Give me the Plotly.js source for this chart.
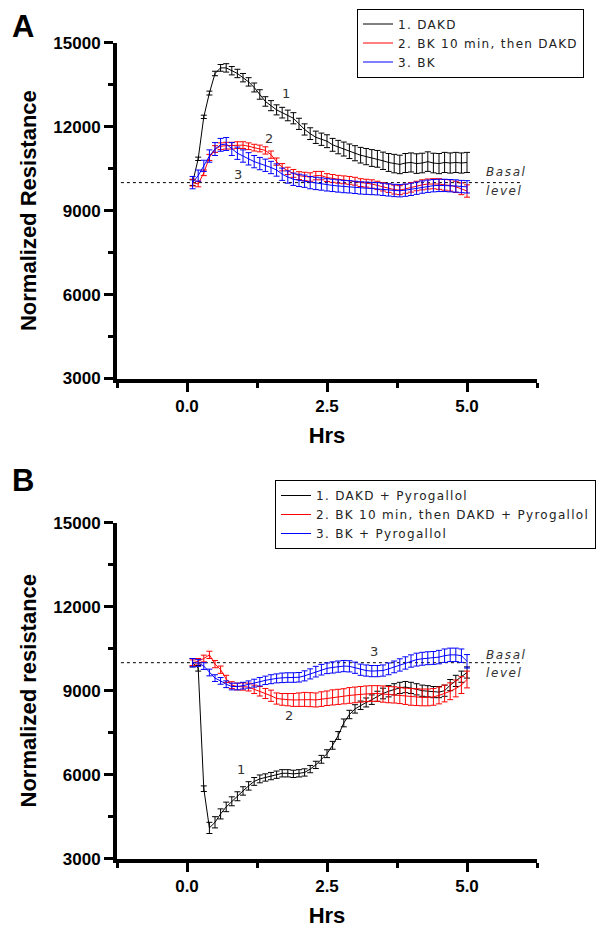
<!DOCTYPE html>
<html>
<head>
<meta charset="utf-8">
<script src="https://cdn.plot.ly/plotly-3.0.1.min.js"></script>
<style>
html,body{margin:0;padding:0;background:#fff;}
#chart{width:601px;height:932px;}
text.legendtext, text.legend2text{letter-spacing:1.3px;}
text.annotation-text{letter-spacing:1.6px;}
</style>
</head>
<body>
<div id="chart"></div>
<script>
// ---- data ----
const hrs = [0.1,0.2,0.3,0.4,0.5,0.6,0.7,0.8,0.9,1.0,
             1.1,1.2,1.3,1.4,1.5,1.6,1.7,1.8,1.9,2.0,
             2.1,2.2,2.3,2.4,2.5,2.6,2.7,2.8,2.9,3.0,
             3.1,3.2,3.3,3.4,3.5,3.6,3.7,3.8,3.9,4.0,
             4.1,4.2,4.3,4.4,4.5,4.6,4.7,4.8,4.9,5.0];
const basalLevel = 10000;

// Panel A
const namesA = ["1. DAKD", "2. BK 10 min, then DAKD", "3. BK"];
const dakdA = [10000,10850,12350,13200,13900,14100,14100,14000,13900,13750,
               13600,13400,13150,12900,12750,12600,12500,12400,12300,12100,
               11900,11750,11620,11550,11480,11350,11270,11200,11120,11050,
               10980,10930,10880,10850,10780,10720,10680,10650,10700,10720,
               10680,10700,10750,10700,10680,10720,10700,10720,10700,10720];
const dakdAerr = [100,60,60,70,80,120,150,150,150,150,
                  150,160,170,170,180,180,190,190,200,200,
                  200,210,220,220,230,230,240,250,260,270,
                  280,290,300,300,310,320,330,330,340,340,
                  350,350,350,350,360,360,360,360,360,360];
const bkDakdA = [10000,9950,10350,10900,11200,11300,11320,11320,11340,11340,
                 11300,11250,11220,11150,11000,10750,10550,10420,10330,10250,
                 10220,10200,10250,10250,10180,10150,10120,10100,10080,10050,
                 10000,9980,9950,9900,9850,9800,9750,9730,9780,9830,
                 9880,9920,9950,9960,9950,9920,9900,9850,9780,9700];
const bkDakdAerr = [120,100,100,110,120,120,120,120,120,120,
                    120,120,120,130,130,130,130,130,140,140,
                    150,150,150,150,140,140,140,140,140,140,
                    140,140,150,150,150,150,160,160,160,170,
                    170,180,180,180,190,190,200,200,210,220];
const bkA = [10000,10250,10600,10950,11200,11350,11380,11200,11050,10950,
             10850,10750,10680,10620,10540,10450,10300,10200,10120,10080,
             10050,10000,9970,9950,9920,9900,9880,9860,9850,9830,
             9810,9800,9790,9780,9760,9740,9720,9710,9730,9760,
             9800,9840,9870,9890,9900,9900,9890,9880,9860,9850];
const bkAerr = [220,200,200,220,230,230,230,230,220,220,
                220,220,220,220,220,220,220,220,220,220,
                220,220,220,220,220,220,220,220,220,220,
                220,220,220,220,220,220,220,220,220,220,
                220,220,220,220,220,220,220,220,220,220];

// Panel B
const namesB = ["1. DAKD + Pyrogallol", "2. BK 10 min, then DAKD + Pyrogallol", "3. BK + Pyrogallol"];
const dakdB = [10000,9800,5500,4100,4300,4600,4850,5050,5230,5420,
               5600,5760,5850,5900,5950,6000,6050,6050,6030,6050,
               6080,6200,6350,6550,6750,7050,7400,7850,8150,8350,
               8480,8580,8680,8800,8900,8980,9050,9100,9130,9100,
               9050,9000,8980,8950,8950,9000,9200,9350,9500,9650];
const dakdBerr = [150,100,100,200,200,180,170,160,160,150,
                  150,140,140,130,130,130,130,130,130,130,
                  130,130,130,140,140,140,140,140,150,150,
                  150,160,170,180,190,200,200,200,200,200,
                  200,200,200,200,200,200,200,200,200,200];
const bkDakdB = [10000,10050,10150,10280,9950,9750,9420,9200,9150,9150,
                 9130,9050,8980,8900,8820,8720,8690,8680,8670,8680,
                 8690,8680,8670,8700,8730,8760,8780,8800,8830,8850,
                 8870,8890,8900,8900,8880,8860,8850,8830,8800,8780,
                 8770,8760,8760,8780,8830,8900,8980,9080,9200,9400];
const bkDakdBerr = [100,100,120,130,130,130,130,120,120,130,
                    140,150,170,180,200,200,210,220,230,240,
                    250,250,250,260,260,270,270,270,280,280,
                    280,280,280,280,290,290,290,290,290,300,
                    300,300,300,300,300,300,300,300,300,300];
const bkB = [10000,9990,9880,9650,9450,9350,9230,9150,9150,9180,
             9220,9270,9320,9370,9410,9440,9460,9470,9470,9480,
             9530,9600,9680,9750,9800,9830,9860,9880,9870,9820,
             9750,9720,9700,9700,9720,9780,9850,9920,9990,10060,
             10110,10140,10160,10170,10200,10250,10280,10280,10250,10050];
const bkBerr = [150,120,120,120,120,120,120,120,120,120,
                130,140,150,150,160,160,170,170,170,170,
                180,180,190,190,190,200,200,200,200,200,
                200,200,200,200,200,210,210,220,220,220,
                230,230,230,230,240,240,240,240,240,240];

const xTickVals = [0, 2.5, 5];
const xTickText = ["0.0", "2.5", "5.0"];
const yTickVals = [3000, 6000, 9000, 12000, 15000];
const yTickText = ["3000", "6000", "9000", "12000", "15000"];

// curve labels [x, y, text]
const curveLabelsA = [[1.78, 13190, "1"], [1.49, 11590, "2"], [0.93, 10280, "3"]];
const curveLabelsB = [[3.36, 10390, "3"], [1.84, 8100, "2"], [0.98, 6170, "1"]];

// ---- styling / building ----
const colors = ["#000000", "#ff0000", "#0000ff"];
function series(y, err, name, color, xa, ya, legend) {
  return {
    type: "scatter", mode: "lines", x: hrs, y: y, name: name,
    xaxis: xa, yaxis: ya, legend: legend,
    line: {color: color, width: 1},
    error_y: {type: "data", array: err, visible: true, color: color, thickness: 1, width: 3}
  };
}
const data = [
  series(dakdA, dakdAerr, namesA[0], colors[0], "x", "y", "legend"),
  series(bkDakdA, bkDakdAerr, namesA[1], colors[1], "x", "y", "legend"),
  series(bkA, bkAerr, namesA[2], colors[2], "x", "y", "legend"),
  series(dakdB, dakdBerr, namesB[0], colors[0], "x2", "y2", "legend2"),
  series(bkDakdB, bkDakdBerr, namesB[1], colors[1], "x2", "y2", "legend2"),
  series(bkB, bkBerr, namesB[2], colors[2], "x2", "y2", "legend2")
];

const tickFont = {family: "Liberation Sans, Arial, sans-serif", size: 17, weight: "bold", color: "#000"};
const titleFont = {family: "Liberation Sans, Arial, sans-serif", size: 22, weight: "bold", color: "#000"};
function xAxis(anchor) {
  return {
    domain: [117/601, 537/601], anchor: anchor, range: [-1.25, 6.25],
    showline: true, linewidth: 4, linecolor: "#000", zeroline: false, showgrid: false,
    ticks: "outside", ticklen: 9, tickwidth: 3, tickcolor: "#000",
    tickvals: xTickVals, ticktext: xTickText, tickfont: tickFont,
    minor: {ticks: "outside", ticklen: 5, tickwidth: 3, tickcolor: "#000", tick0: -1.25, dtick: 1.25, showgrid: false},
    title: {text: "Hrs", font: titleFont, standoff: 14}
  };
}
function yAxis(anchor, domain, title) {
  return {
    domain: domain, anchor: anchor, range: [3000, 15000],
    showline: true, linewidth: 4, linecolor: "#000", zeroline: false, showgrid: false,
    ticks: "outside", ticklen: 9, tickwidth: 3, tickcolor: "#000",
    tickvals: yTickVals, ticktext: yTickText, tickfont: tickFont,
    minor: {ticks: "outside", ticklen: 5, tickwidth: 3, tickcolor: "#000", tick0: 3000, dtick: 1500, showgrid: false},
    title: {text: title, font: titleFont, standoff: 12}
  };
}

const annFont = {family: "DejaVu Sans, sans-serif", size: 13, color: "#333"};
const basalFont = {family: "DejaVu Sans, sans-serif", size: 12, color: "#333", style: "italic"};
const annotations = [];
curveLabelsA.forEach(c => annotations.push({xref: "x", yref: "y", x: c[0], y: c[1], text: c[2], showarrow: false, font: annFont}));
curveLabelsB.forEach(c => annotations.push({xref: "x2", yref: "y2", x: c[0], y: c[1], text: c[2], showarrow: false, font: annFont}));
[["x","y",10380,9700],["x2","y2",10280,9630]].forEach(a => {
  annotations.push({xref: a[0], yref: a[1], x: 5.3, xanchor: "left", y: a[2], text: "Basal", showarrow: false, font: basalFont});
  annotations.push({xref: a[0], yref: a[1], x: 5.3, xanchor: "left", y: a[3], text: "level", showarrow: false, font: basalFont});
});
const panelFont = {family: "Liberation Sans, Arial, sans-serif", size: 31, weight: "bold", color: "#000"};
annotations.push({xref: "paper", yref: "paper", x: 24/601, y: 1 - 27/932, xanchor: "center", yanchor: "middle", text: "A", showarrow: false, font: panelFont});
annotations.push({xref: "paper", yref: "paper", x: 24/601, y: 1 - 480/932, xanchor: "center", yanchor: "middle", text: "B", showarrow: false, font: panelFont});

const shapes = [
  {type: "line", xref: "x", yref: "y", x0: -1.18, x1: 6.0, y0: basalLevel, y1: basalLevel, line: {color: "#000", width: 1, dash: "dot"}, layer: "below"},
  {type: "line", xref: "x2", yref: "y2", x0: -1.18, x1: 6.0, y0: basalLevel, y1: basalLevel, line: {color: "#000", width: 1, dash: "dot"}, layer: "below"}
];

const legendFont = {family: "DejaVu Sans, sans-serif", size: 12, color: "#222"};
const layout = {
  width: 601, height: 932, margin: {l: 0, r: 0, t: 0, b: 0},
  paper_bgcolor: "#fff", plot_bgcolor: "#fff", showlegend: true,
  xaxis: xAxis("y"),
  yaxis: yAxis("x", [1 - 378.5/932, 1 - 42.7/932], "Normalized Resistance"),
  xaxis2: xAxis("y2"),
  yaxis2: yAxis("x2", [1 - 858.7/932, 1 - 522.7/932], "Normalized resistance"),
  legend: {x: 357/601, y: 1 - 8.5/932, xanchor: "left", yanchor: "top", bgcolor: "#fff", bordercolor: "#000", borderwidth: 1, font: legendFont, tracegroupgap: 0},
  legend2: {x: 275/601, y: 1 - 480/932, xanchor: "left", yanchor: "top", bgcolor: "#fff", bordercolor: "#000", borderwidth: 1, font: legendFont, tracegroupgap: 0},
  annotations: annotations, shapes: shapes
};

Plotly.newPlot("chart", data, layout, {staticPlot: true});
</script>
</body>
</html>
